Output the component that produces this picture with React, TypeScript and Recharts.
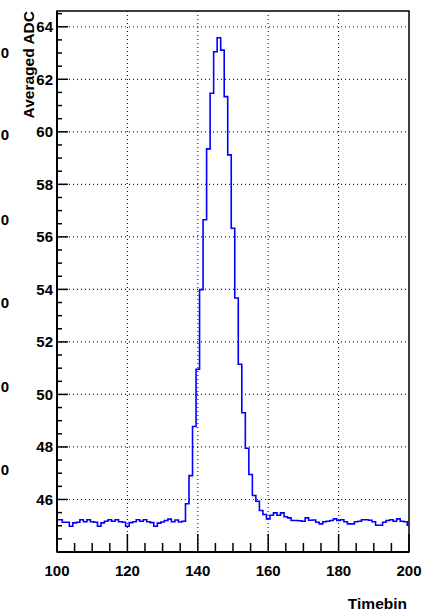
import React from "react";
import { LineChart, Line, XAxis, YAxis, ReferenceLine, ReferenceArea } from "recharts";

// histogram: one value per timebin, starting at bin 100
const firstBin = 100;

// bins 100..136, flat pedestal before the pulse
const pedestalBefore = [
  45.23, 45.23, 45.13, 45.13, 44.98, 45.11, 45.13, 45.23, 45.15, 45.23,
  45.15, 45.13, 44.98, 45.11, 45.17, 45.23, 45.17, 45.23, 45.15, 45.13,
  44.98, 45.12, 45.15, 45.23, 45.17, 45.23, 45.15, 45.12, 44.98, 45.1,
  45.14, 45.2, 45.25, 45.15, 45.22, 45.14, 45.17,
];

// bins 137..160, the pulse
const pulse = [
  45.84, 46.91, 48.78, 50.96, 53.99, 56.65, 59.35, 61.47, 63.05, 63.58,
  63.11, 61.34, 59.12, 56.33, 53.67, 51.15, 49.3, 47.95, 46.95, 46.15,
  45.93, 45.58, 45.43, 45.26,
];

// bins 161..200, pedestal after the pulse
const pedestalAfter = [
  45.4, 45.49, 45.4, 45.49, 45.34, 45.3, 45.2, 45.2, 45.19, 45.17,
  45.3, 45.21, 45.22, 45.13, 45.07, 45.15, 45.17, 45.2, 45.26, 45.2,
  45.23, 45.15, 45.07, 45.07, 45.15, 45.17, 45.23, 45.23, 45.21, 45.15,
  45.02, 45.02, 45.13, 45.2, 45.23, 45.17, 45.26, 45.17, 45.15, 45.02,
];

const xTicks = [
  100, 105, 110, 115, 120, 125, 130, 135, 140, 145, 150,
  155, 160, 165, 170, 175, 180, 185, 190, 195, 200,
];
const xMajor = [100, 120, 140, 160, 180, 200];
const xGrid = [120, 140, 160, 180];

const yTicks = [
  44.5, 45, 45.5, 46, 46.5, 47, 47.5, 48, 48.5, 49, 49.5, 50, 50.5, 51,
  51.5, 52, 52.5, 53, 53.5, 54, 54.5, 55, 55.5, 56, 56.5, 57, 57.5, 58,
  58.5, 59, 59.5, 60, 60.5, 61, 61.5, 62, 62.5, 63, 63.5, 64, 64.5,
];
const yMajor = [46, 48, 50, 52, 54, 56, 58, 60, 62, 64];

// clipped labels of the neighbouring pad on the left edge
const leftScraps = [53, 135, 220, 303, 387, 470];

const font = "'Liberation Sans', Arial, Helvetica, sans-serif";

const adc = [...pedestalBefore, ...pulse, ...pedestalAfter];
const data = adc.map((v, i) => ({ bin: firstBin + i, adc: v }));

const renderXTick = (props: any) => {
  const { x, y, payload } = props;
  const major = xMajor.includes(payload.value);
  return (
    <g key={"xt" + payload.value}>
      <line x1={x} y1={y} x2={x} y2={y - (major ? 18 : 9)} stroke="#000" strokeWidth={1.5} />
      {major && (
        <text x={x} y={y + 23.5} textAnchor="middle" fontFamily={font} fontWeight="bold" fontSize={15} fill="#000">
          {payload.value}
        </text>
      )}
    </g>
  );
};

const renderYTick = (props: any) => {
  const { x, y, payload } = props;
  const major = yMajor.includes(payload.value);
  return (
    <g key={"yt" + payload.value}>
      <line x1={x} y1={y} x2={x + (major ? 11 : 5)} y2={y} stroke="#000" strokeWidth={1.5} />
      {major && (
        <text x={x - 4} y={y + 5.4} textAnchor="end" fontFamily={font} fontWeight="bold" fontSize={15} fill="#000">
          {payload.value}
        </text>
      )}
    </g>
  );
};

export default function App() {
  return (
    <div style={{ position: "absolute", left: 0, top: 0, width: 428, height: 616, background: "#fff" }}>
      <LineChart width={428} height={616} data={data} margin={{ top: 11, right: 19, bottom: 0, left: 0 }}>
        {xGrid.map((v) => (
          <ReferenceLine key={"x" + v} x={v} stroke="#222" strokeWidth={1.2} strokeDasharray="1 3" />
        ))}
        {yMajor.map((v) => (
          <ReferenceLine key={"y" + v} y={v} stroke="#222" strokeWidth={1.2} strokeDasharray="1 3" />
        ))}
        <ReferenceArea x1={100} x2={200} y1={44} y2={64.6} fill="none" stroke="#000" strokeWidth={1.5} ifOverflow="visible" />
        <XAxis
          type="number"
          dataKey="bin"
          domain={[100, 200]}
          ticks={xTicks}
          interval={0}
          allowDataOverflow
          height={64}
          tickSize={0}
          tickMargin={0}
          tickLine={false}
          tick={renderXTick}
          axisLine={{ stroke: "#000", strokeWidth: 2 }}
        />
        <YAxis
          type="number"
          domain={[44, 64.6]}
          ticks={yTicks}
          interval={0}
          allowDataOverflow
          width={57}
          tickSize={0}
          tickMargin={0}
          tickLine={false}
          tick={renderYTick}
          axisLine={{ stroke: "#000", strokeWidth: 2 }}
        />
        <Line
          type="step"
          dataKey="adc"
          stroke="#0000ff"
          strokeWidth={1.6}
          dot={false}
          isAnimationActive={false}
        />
      </LineChart>
      <svg width={428} height={616} style={{ position: "absolute", left: 0, top: 0, pointerEvents: "none" }}>
        <text
          transform="translate(33.5, 11) rotate(-90)"
          textAnchor="end"
          fontFamily={font}
          fontWeight="bold"
          fontSize={15.5}
          fill="#000"
        >
          Averaged ADC
        </text>
        <text x={407} y={609} textAnchor="end" fontFamily={font} fontWeight="bold" fontSize={15.5} fill="#000">
          Timebin
        </text>
        {leftScraps.map((y) => (
          <text key={y} x={9} y={y + 5.4} textAnchor="end" fontFamily={font} fontWeight="bold" fontSize={15} fill="#000">
            0
          </text>
        ))}
      </svg>
    </div>
  );
}
